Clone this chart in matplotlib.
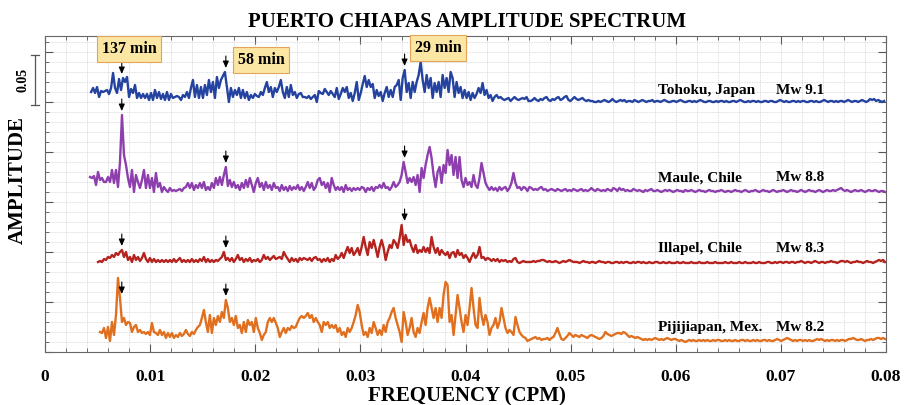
import numpy as np
import matplotlib
matplotlib.use("Agg")
import matplotlib.pyplot as plt
import matplotlib.transforms as mtransforms
from matplotlib.ticker import MultipleLocator

plt.rcParams['font.family'] = ['Liberation Serif', 'DejaVu Serif']
plt.rcParams['font.weight'] = 'bold'

# frequency bin width (CPM); each spectrum starts at its own first bin
df = 0.00019

# amplitudes in units of 1e-3 (offset is added later for stacking)
tohoku_f0 = 0.00438
tohoku_amp = [
    10, 14, 9, 15, 5, 11, 10, 11, 12, 8, 14, 29, 14, 9, 23, 12, 24, 20, 25, 5,
    13, 9, 17, 4, 9, 4, 8, 4, 8, 2, 9, 2, 12, 4, 10, 3, 8, 2, 10, 2,
    8, 4, 5, 6, 5, 2, 7, 5, 10, 4, 14, 22, 5, 17, 4, 15, 4, 17, 7, 22,
    10, 20, 4, 25, 14, 22, 26, 30, 15, 0, 14, 5, 12, 7, 14, 4, 12, 4, 10, 2,
    7, 4, 8, 6, 5, 10, 7, 14, 20, 10, 15, 5, 14, 10, 15, 22, 10, 4, 15, 5,
    17, 7, 10, 4, 8, 9, 5, 5, 4, 6, 3, 5, 7, 0, 11, 9, 8, 13, 10, 7,
    11, 8, 5, 14, 3, 8, 14, 10, 15, 4, 9, 1, 9, 20, 2, 9, 18, 26, 15, 22,
    15, 18, 4, 12, 6, 10, 1, 9, 15, 5, 12, 5, 15, 17, 22, 2, 24, 32, 10, 19,
    4, 20, 10, 20, 27, 40, 22, 10, 27, 14, 24, 4, 19, 10, 20, 5, 27, 14, 24, 10,
    30, 24, 5, 20, 9, 15, 4, 12, 4, 10, 2, 9, 4, 8, 14, 9, 19, 7, 12, 4,
    7, 1, 5, 7, 4, 5, 3, 2, 3, 4, 1, 3, 5, 3, 2, 3, 4, 3, 5, 1, 1, 2,
    4, 2, 1, 3, 2, 4, 5, 2, 1, 3, 2, 4, 5, 2, 3, 5, 6, 2, 1, 3, 5, 3, 2, 3, 4, 2, 1, 2, 1, 1, 0, 0,
    1, 0, 1, 2, 1, 0, 1, 3, 1, 0, 1, 2, 1, 2, 0, 1, 1, 0, 2, 1, 0,
    1, 2, 1, 0, 1, 1, 2, 0, 1, 1, 0, 1, 2, 1, 0, 0, 1, 1, 0, 1, 2,
    1, 0, 0, 1, 1, 0, 1, 0, 1, 2, 1, 0, 0, 1, 1, 0, 0, 1, 0, 1, 1,
    0, 1, 0, 0, 1, 1, 0, 1, 2, 1, 0, 0, 1, 0, 1, 1, 0, 1, 0, 0, 1,
    1, 0, 1, 1, 0, 0, 1, 2, 1, 0, 1, 0, 0, 1, 1, 0, 1, 0, 1, 1, 0,
    0, 1, 1, 0, 1, 0, 0, 1, 2, 1, 0, 1, 1, 0, 1, 0, 1, 1, 0, 1, 2,
    1, 0, 1, 1, 0, 1, 2, 1, 0, 1, 3, 2, 3, 1, 2, 1, 0, 1,
]

maule_f0 = 0.00428
maule_amp = [
    15, 14, 16, 7, 20, 12, 14, 10, 10, 15, 10, 22, 9, 22, 5, 30, 77, 37, 27, 14,
    5, 22, 0, 17, 10, 4, 12, 22, 4, 17, 4, 14, 0, 19, 5, 9, 0, 5, 2, 0,
    4, 1, 2, 1, 2, 3, 1, 4, 5, 9, 4, 9, 2, 7, 4, 9, 4, 10, 2, 5,
    2, 9, 4, 14, 7, 15, 7, 17, 25, 6, 12, 5, 10, 4, 7, 2, 9, 4, 12, 5,
    14, 7, 0, 9, 14, 5, 9, 2, 10, 4, 7, 2, 9, 4, 5, 1, 7, 2, 5, 1,
    6, 2, 5, 3, 7, 2, 5, 1, 5, 10, 4, 9, 2, 5, 12, 14, 7, 10, 4, 9,
    0, 14, 7, 2, 5, 2, 5, 0, 7, 2, 4, 1, 4, 2, 4, 2, 5, 4, 0, 4,
    2, 5, 1, 5, 4, 7, 4, 9, 4, 5, 2, 5, 10, 5, 7, 10, 17, 30, 20, 9,
    14, 10, 15, 7, 17, 0, 24, 14, 27, 37, 45, 34, 17, 5, 20, 25, 9, 27, 19, 42,
    27, 37, 17, 35, 14, 35, 12, 5, 14, 7, 10, 5, 17, 7, 4, 14, 29, 19, 9, 5,
    2, 5, 2, 4, 1, 5, 2, 4, 5, 1, 4, 9, 19, 9, 4, 5, 2, 5, 4, 1, 5, 4, 2,
    3, 2, 4, 5, 2, 3, 1, 2, 3, 2, 1, 3, 2, 1, 2, 3, 1, 2, 1, 3, 2,
    1, 2, 3, 1, 2, 1, 2, 4, 2, 1, 3, 2, 1, 2, 1, 3, 2, 1, 4, 3, 1,
    4, 2, 3, 1, 2, 1, 1, 3, 2, 1, 2, 1, 0, 2, 1, 2, 3, 1, 1, 2, 1,
    0, 1, 2, 1, 2, 1, 0, 1, 2, 1, 1, 0, 2, 1, 1, 2, 1, 0, 1, 2, 1,
    1, 0, 1, 2, 1, 1, 0, 1, 1, 2, 1, 0, 1, 1, 0, 1, 2, 1, 1, 0, 1,
    2, 1, 0, 1, 1, 2, 1, 0, 1, 2, 1, 1, 0, 1, 2, 1, 0, 1, 1, 2, 1,
    0, 1, 2, 1, 1, 0, 1, 2, 1, 0, 1, 2, 1, 1, 0, 1, 2, 1, 0, 1, 2,
    1, 1, 2, 1, 2, 3, 4, 2, 1, 2, 1, 0, 1, 2, 1, 1, 2, 1, 0, 1, 2,
    1, 1, 2, 1, 0, 1, 1, 0,
]

illapel_f0 = 0.00504
illapel_amp = [
    1, 2, 1, 4, 3, 6, 5, 8, 6, 10, 8, 11, 13, 6, 11, 3, 6, 1, 8, 3,
    6, 2, 5, 10, 4, 1, 5, 1, 4, 1, 3, 1, 3, 1, 3, 1, 3, 1, 4, 1,
    3, 5, 1, 3, 1, 3, 1, 4, 1, 3, 1, 4, 2, 6, 1, 4, 1, 3, 1, 3,
    2, 4, 6, 11, 3, 5, 2, 5, 1, 4, 8, 3, 5, 1, 4, 2, 5, 1, 3, 2,
    4, 1, 3, 8, 4, 6, 3, 5, 7, 4, 5, 6, 4, 11, 7, 4, 1, 5, 2, 4,
    1, 5, 3, 5, 4, 3, 5, 2, 5, 6, 3, 4, 1, 4, 2, 5, 1, 4, 2, 8,
    4, 6, 10, 5, 11, 16, 10, 15, 8, 11, 15, 8, 16, 26, 16, 8, 21, 15, 23, 15,
    6, 16, 23, 15, 3, 11, 18, 15, 23, 20, 15, 25, 38, 18, 28, 21, 23, 16, 11, 18,
    10, 13, 11, 16, 11, 15, 10, 26, 16, 10, 15, 8, 13, 10, 8, 11, 5, 10, 11, 6,
    13, 8, 10, 5, 8, 5, 1, 6, 10, 5, 8, 16, 5, 6, 3, 5, 4, 2, 4, 2,
    4, 1, 3, 2, 3, 1, 2, 1, 4, 5, 1, 0, 1, 2, 1, 1, 1, 1, 2,
    1, 2, 2, 3, 3, 2, 1, 2, 1, 1, 2, 1, 0, 1, 2, 1, 2, 3, 2, 1, 1,
    1, 0, 1, 2, 1, 1, 0, 1, 1, 0, 1, 2, 1, 1, 0, 1, 1, 0, 0, 1, 1,
    0, 1, 0, 1, 1, 0, 0, 1, 0, 1, 1, 0, 1, 0, 0, 1, 0, 0, 1, 1, 0,
    0, 1, 0, 0, 1, 0, 0, 0, 1, 0, 0, 1, 0, 0, 0, 1, 0, 0, 0, 1, 0,
    0, 0, 1, 0, 0, 0, 1, 0, 0, 0, 0, 1, 0, 0, 1, 0, 0, 0, 1, 0, 0,
    1, 0, 0, 0, 1, 0, 0, 1, 0, 0, 0, 1, 1, 0, 0, 1, 0, 1, 1, 0, 1,
    1, 0, 1, 1, 0, 1, 1, 2, 1, 0, 1, 1, 0, 1, 2, 1, 0, 1, 1, 0, 1,
    1, 2, 1, 1, 0, 1, 2, 2, 1, 2, 1, 0, 1, 1, 2, 1, 1, 0, 1, 2, 1,
    1, 0, 1, 2, 3, 2, 3, 1,
]

pijijiapan_f0 = 0.00523
pijijiapan_amp = [
    10, 9, 14, 4, 15, 1, 20, 7, 27, 64, 44, 20, 24, 17, 20, 19, 10, 15, 17, 10,
    12, 9, 10, 8, 10, 7, 19, 10, 9, 7, 12, 7, 10, 4, 9, 5, 9, 4, 7, 5,
    9, 6, 8, 12, 8, 6, 10, 8, 12, 15, 17, 24, 32, 20, 10, 27, 9, 24, 17, 26,
    20, 30, 24, 42, 34, 20, 24, 17, 26, 14, 17, 9, 20, 10, 22, 17, 20, 10, 24, 14,
    9, 2, 7, 10, 20, 24, 20, 24, 19, 14, 5, 10, 14, 9, 14, 12, 16, 14, 15, 20,
    24, 26, 24, 26, 29, 24, 27, 20, 24, 20, 17, 10, 20, 17, 20, 14, 17, 14, 17, 10,
    14, 7, 10, 5, 14, 10, 14, 20, 27, 37, 30, 17, 7, 10, 5, 14, 9, 20, 14, 7,
    12, 7, 17, 10, 20, 24, 30, 34, 24, 17, 10, 0, 30, 20, 7, 14, 24, 10, 5, 14,
    9, 20, 29, 17, 34, 44, 34, 24, 34, 20, 34, 24, 47, 60, 57, 20, 27, 7, 27, 47,
    34, 20, 10, 27, 17, 34, 54, 34, 17, 14, 44, 27, 17, 27, 20, 7, 14, 17, 24, 14,
    20, 34, 24, 14, 9, 12, 10, 7, 25, 17, 10, 7, 5, 4, 1, 2, 3, 4,
    5, 3, 4, 2, 3, 3, 4, 2, 4, 5, 9, 14, 8, 3, 2, 4, 6, 9, 7, 5, 7,
    6, 5, 7, 6, 5, 4, 6, 7, 6, 5, 4, 3, 4, 6, 10, 8, 7, 6, 7, 8, 9,
    9, 8, 10, 9, 7, 5, 6, 5, 4, 5, 4, 3, 2, 3, 2, 3, 2, 3, 4, 3, 2,
    3, 2, 3, 4, 3, 2, 3, 3, 2, 1, 2, 1, 0, 1, 2, 1, 2, 1, 1, 2, 1,
    2, 1, 2, 1, 1, 2, 1, 2, 2, 1, 1, 2, 1, 2, 1, 1, 2, 1, 1, 2, 2,
    1, 2, 1, 1, 2, 1, 2, 1, 1, 2, 2, 1, 2, 1, 1, 2, 3, 2, 1, 2, 3,
    4, 3, 2, 1, 2, 1, 2, 2, 1, 2, 1, 2, 1, 1, 2, 3, 2, 3, 2, 1, 2,
    1, 2, 2, 1, 2, 1, 2, 2, 1, 2, 3, 3, 4, 3, 2, 2, 3, 2, 1, 2, 2,
    3, 2, 3, 4, 4, 3, 4, 3,
]

events = ["Tohoku, Japan", "Maule, Chile", "Illapel, Chile", "Pijijiapan, Mex."]
magnitudes = ["Mw 9.1", "Mw 8.8", "Mw 8.3", "Mw 8.2"]
offsets = [0.250, 0.160, 0.089, 0.010]
colors = ["#2443a0", "#8d3fae", "#b5231f", "#e0701f"]
spectra = [(tohoku_f0, tohoku_amp), (maule_f0, maule_amp),
           (illapel_f0, illapel_amp), (pijijiapan_f0, pijijiapan_amp)]

# marked peaks (frequency, period label) and how many of them each event shows
peak_freqs = [0.0073, 0.0172, 0.0342]
peak_labels = ["137 min", "58 min", "29 min"]
peaks_shown = [3, 3, 3, 2]

fig = plt.figure(figsize=(9.06, 4.05), dpi=100)
ax = fig.add_axes([0.0497, 0.1309, 0.9283, 0.7802])

for i, (f0, amp) in enumerate(spectra):
    amp = np.array(amp) * 1e-3
    freq = f0 + df * np.arange(len(amp))
    ax.plot(freq, amp + offsets[i], color=colors[i], lw=1.7, zorder=3)

    # small arrows above the marked peaks
    for pf in peak_freqs[:peaks_shown[i]]:
        near = np.abs(freq - pf) < 0.0003
        tip = offsets[i] + amp[near].max() + 0.004
        ax.annotate("", xy=(pf, tip), xytext=(pf, tip + 0.012),
                    arrowprops=dict(arrowstyle="-|>,head_length=0.5,head_width=0.22",
                                    color="black", lw=0.8, shrinkA=0, shrinkB=0,
                                    mutation_scale=8), zorder=4)

    ty = offsets[i] + (0.012 if i == 0 else 0.014)
    ax.text(0.0583, ty, events[i], fontsize=11, va="center", ha="left")
    ax.text(0.0695, ty, magnitudes[i], fontsize=11, va="center", ha="left")

# period boxes at the top
box_pos = [(0.0080, 0.303), (0.02055, 0.292), (0.0374, 0.304)]
for (bx, by), lab in zip(box_pos, peak_labels):
    ax.text(bx, by, lab, fontsize=11.5, ha="center", va="center", zorder=5,
            bbox=dict(boxstyle="square,pad=0.3", fc="#fbe6a4", ec="#e3a55a", lw=0.8))

ax.set_xlim(0, 0.08)
ax.set_ylim(0, 0.316)

ax.xaxis.set_major_locator(MultipleLocator(0.01))
ax.xaxis.set_minor_locator(MultipleLocator(0.002))
ax.yaxis.set_major_locator(MultipleLocator(0.05))
ax.yaxis.set_minor_locator(MultipleLocator(0.01))
ax.set_xticks(np.arange(0, 0.081, 0.01))
ax.set_xticklabels(["0", "0.01", "0.02", "0.03", "0.04", "0.05", "0.06", "0.07", "0.08"])
ax.set_yticklabels([])
ax.tick_params(which="both", direction="in", top=True, right=True, colors="#555555")
ax.tick_params(which="major", length=6, width=0.8)
ax.tick_params(which="minor", length=3, width=0.6)
ax.tick_params(axis="x", labelsize=12.5, labelcolor="black", pad=12)
ax.grid(which="both", color="#d4d4d4", linestyle=(0, (1, 1)), linewidth=0.6, zorder=0)
for s in ax.spines.values():
    s.set_color("#666666")
    s.set_linewidth(0.8)

# 0.05 amplitude scale bar left of the frame
trans = mtransforms.blended_transform_factory(ax.transAxes, ax.transData)
ax.plot([-0.0119, -0.0119], [0.247, 0.297], color="#555555", lw=0.9, transform=trans, clip_on=False)
for yb in (0.247, 0.297):
    ax.plot([-0.0165, -0.0073], [yb, yb], color="#555555", lw=0.9, transform=trans, clip_on=False)
ax.text(-0.026, 0.272, "0.05", rotation=90, fontsize=10, ha="center", va="center", transform=trans)

fig.text(0.515, 0.9457, "PUERTO CHIAPAS AMPLITUDE SPECTRUM", fontsize=15, ha="center", va="center")
fig.text(0.515, 0.022, "FREQUENCY (CPM)", fontsize=15, ha="center", va="center")
fig.text(0.02, 0.555, "AMPLITUDE", fontsize=15, rotation=90, ha="center", va="center")

fig.savefig("out.png", dpi=100)
